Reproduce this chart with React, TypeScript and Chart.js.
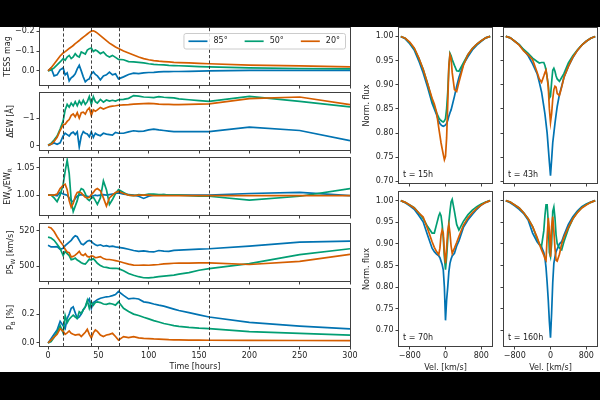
import React, { useEffect, useRef } from "react";
import { Chart, registerables } from "chart.js";

Chart.register(...registerables);

// ---------------- data ----------------
const TIME = [0, 3, 6, 9, 12, 15, 17, 19, 21, 23, 25, 27, 29, 31, 33, 35, 37, 39, 41, 43, 45, 47, 49, 52, 55, 58, 61, 64, 67, 70, 75, 80, 85, 90, 95, 100, 105, 110, 115, 120, 125, 130, 140, 150, 160, 200, 250, 300];

const TESS_85 = [0, -0.015, 0.025, 0.02, -0.005, -0.015, 0.02, 0.01, 0.05, 0.035, 0.027, 0.015, -0.01, -0.028, 0.0, 0.03, 0.055, 0.045, 0.04, 0.015, 0.005, 0.018, 0.025, 0.045, 0.025, 0.02, 0.006, 0.02, 0.015, 0.04, 0.03, 0.018, 0.011, 0.014, 0.01, 0.008, 0.007, 0.005, 0.004, 0.004, 0.003, 0.003, 0.002, 0.001, 0.0, -0.003, -0.003, -0.003];
const TESS_50 = [0, -0.005, -0.015, -0.03, -0.045, -0.062, -0.054, -0.07, -0.078, -0.062, -0.07, -0.087, -0.075, -0.07, -0.095, -0.09, -0.085, -0.105, -0.112, -0.115, -0.098, -0.105, -0.1, -0.087, -0.095, -0.078, -0.07, -0.078, -0.068, -0.058, -0.056, -0.047, -0.045, -0.043, -0.04, -0.036, -0.033, -0.031, -0.03, -0.028, -0.027, -0.026, -0.024, -0.022, -0.02, -0.015, -0.012, -0.01];
const TESS_20 = [0, -0.015, -0.035, -0.055, -0.075, -0.09, -0.097, -0.105, -0.113, -0.12, -0.128, -0.137, -0.145, -0.153, -0.162, -0.17, -0.178, -0.186, -0.194, -0.2, -0.202, -0.197, -0.19, -0.178, -0.165, -0.152, -0.14, -0.13, -0.12, -0.113, -0.1, -0.09, -0.08, -0.07, -0.062, -0.056, -0.052, -0.049, -0.047, -0.045, -0.043, -0.042, -0.04, -0.038, -0.036, -0.029, -0.025, -0.02];

const DEW_85 = [0, -0.05, -0.1, -0.05, -0.1, -0.35, -0.45, -0.4, -0.35, -0.45, -0.49, -0.4, -0.5, 0.05, -0.35, -0.51, -0.45, -0.42, -0.32, -0.5, -0.3, -0.45, -0.4, -0.36, -0.45, -0.42, -0.4, -0.38, -0.48, -0.45, -0.45, -0.5, -0.54, -0.52, -0.53, -0.57, -0.6, -0.57, -0.55, -0.53, -0.51, -0.51, -0.51, -0.51, -0.51, -0.67, -0.55, -0.18];
const DEW_50 = [-0.02, -0.08, -0.2, -0.35, -0.6, -0.9, -1.3, -1.5, -1.4, -1.55, -1.45, -1.6, -1.45, -1.63, -1.5, -1.65, -1.5, -1.6, -1.79, -1.5, -1.78, -1.6, -1.55, -1.68, -1.58, -1.66, -1.62, -1.65, -1.62, -1.67, -1.68, -1.72, -1.82, -1.8, -1.77, -1.76, -1.75, -1.78, -1.76, -1.75, -1.74, -1.7, -1.67, -1.64, -1.61, -1.79, -1.61, -1.41];
const DEW_20 = [-0.02, -0.05, -0.15, -0.3, -0.55, -0.76, -0.78, -0.88, -0.95, -1.1, -1.15, -1.05, -1.2, -1.0, -1.2, -1.22, -1.15, -1.3, -1.37, -1.1, -1.3, -1.25, -1.3, -1.39, -1.33, -1.38, -1.42, -1.44, -1.45, -1.47, -1.48, -1.49, -1.51, -1.52, -1.53, -1.54, -1.53, -1.51, -1.5, -1.5, -1.49, -1.49, -1.5, -1.51, -1.52, -1.71, -1.77, -1.49];

const EWR_85 = [1.0, 1.0, 1.0, 0.999, 1.005, 1.002, 1.001, 1.0, 0.995, 0.99, 0.988, 0.994, 0.998, 1.0, 1.001, 1.0, 0.999, 0.998, 0.997, 0.998, 0.999, 1.0, 0.999, 1.0, 1.001, 1.0, 1.001, 1.002, 1.003, 1.004, 1.002, 1.001, 1.0, 0.998, 0.994, 0.998, 1.0, 1.0, 1.001, 1.0, 1.0, 1.0, 1.0, 1.0, 1.0, 1.003, 1.005, 0.999];
const EWR_50 = [1.0, 1.0, 0.995, 0.988, 1.0, 1.02, 1.044, 1.064, 1.04, 0.99, 0.97, 0.98, 0.99, 1.005, 1.012, 1.01, 1.003, 0.993, 0.99, 0.995, 0.996, 0.99, 0.983, 0.995, 1.026, 1.01, 0.983, 0.992, 1.003, 1.01, 1.005, 1.0, 0.999, 1.001, 1.0, 1.002, 1.002, 1.001, 1.001, 1.0, 1.0, 1.0, 0.999, 0.998, 0.998, 0.991, 0.998, 1.012];
const EWR_20 = [1.0, 1.0, 1.0, 1.002, 1.012, 1.018, 1.02, 1.01, 0.99, 0.978, 0.985, 0.998, 1.005, 1.006, 1.004, 1.0, 0.996, 0.995, 0.996, 1.001, 1.005, 1.01, 1.012, 1.008, 0.995, 0.98, 0.995, 1.0, 1.005, 1.007, 1.003, 1.0, 0.999, 1.0, 1.0, 1.0, 0.999, 0.999, 0.999, 0.999, 0.999, 0.999, 0.999, 0.999, 0.999, 0.999, 0.999, 0.999];

const PSW_85 = [511.7, 510.8, 510.8, 511, 509.5, 510, 511.5, 512.5, 513.5, 514.5, 516, 517, 516.5, 514.5, 512.5, 512, 513, 514, 514.4, 513.8, 512.8, 512, 511.6, 512, 511.2, 511.5, 511, 511.2, 510.8, 510.6, 510.1, 509.5, 508.8, 508.3, 508.6, 508.2, 508, 508.8, 508.5, 508.3, 508.9, 509, 509.3, 509.6, 509.8, 511.3, 513.5, 514];
const PSW_50 = [516.3, 515.8, 514.5, 512.3, 510, 506, 508.3, 507, 506, 503.7, 504, 504.6, 503.5, 502.8, 502, 501.5, 501.3, 502.5, 504, 503.5, 504.3, 503, 501.7, 500.4, 499.6, 499.4, 499, 498.8, 498.9, 498.7, 497.5, 496, 495, 494.2, 493.6, 493.5, 493.8, 494.2, 494.5, 494.8, 495.1, 495.6, 496.5, 497.8, 498.7, 501.5, 506.5, 509.8];
const PSW_20 = [521.9, 521.4, 519.4, 516.5, 514, 511.7, 509.5, 508, 507.6, 505.2, 505.5, 506.2, 507.2, 508.3, 506.5, 506, 507, 505.5, 505.2, 505.8, 505.6, 504.8, 505, 505.4, 504.3, 503.8, 503.8, 503.5, 503.2, 502.8, 502, 501.2, 500.7, 500.6, 500.7, 500.6, 500.8, 501, 501.3, 501.5, 501.7, 501.8, 501.8, 501.9, 501.9, 501, 502.8, 506.7];

const PB_85 = [0, 0.03, 0.06, 0.09, 0.15, 0.12, 0.1, 0.17, 0.2, 0.24, 0.25, 0.21, 0.17, 0.18, 0.2, 0.23, 0.25, 0.285, 0.305, 0.24, 0.28, 0.29, 0.3, 0.31, 0.315, 0.32, 0.322, 0.328, 0.335, 0.357, 0.33, 0.305, 0.31, 0.305, 0.285, 0.28, 0.27, 0.262, 0.255, 0.245, 0.235, 0.225, 0.21, 0.195, 0.18, 0.143, 0.117, 0.097];
const PB_50 = [0, 0.01, 0.04, 0.075, 0.12, 0.07, 0.19, 0.14, 0.165, 0.18, 0.193, 0.18, 0.17, 0.216, 0.205, 0.23, 0.25, 0.296, 0.24, 0.285, 0.262, 0.28, 0.285, 0.28, 0.27, 0.268, 0.274, 0.27, 0.262, 0.285, 0.24, 0.218, 0.2, 0.19, 0.178, 0.167, 0.155, 0.145, 0.135, 0.128, 0.12, 0.115, 0.108, 0.103, 0.1, 0.078, 0.067, 0.055];
const PB_20 = [0, 0.02, 0.04, 0.06, 0.1, 0.08, 0.06, 0.07, 0.083, 0.067, 0.06, 0.055, 0.058, 0.06, 0.045, 0.06, 0.074, 0.095, 0.06, 0.035, 0.07, 0.09, 0.08, 0.055, 0.045, 0.055, 0.06, 0.067, 0.045, 0.02, 0.044, 0.037, 0.044, 0.035, 0.032, 0.03, 0.028, 0.027, 0.025, 0.023, 0.022, 0.021, 0.02, 0.02, 0.019, 0.018, 0.017, 0.016];

const MARK_TIMES = [15, 43, 70, 160];
const SERIES_LABELS = ["85°", "50°", "20°"];
const TIME_TICKS = [0, 50, 100, 150, 200, 250, 300];
const TESS_TICKS = [-0.2, -0.1, 0.0];
const DEW_TICKS = [-1, 0];
const EWR_TICKS = [1.0, 1.05];
const PSW_TICKS = [500, 520];
const PB_TICKS = [0, 0.2];

const VEL = [-1000, -900, -800, -700, -600, -500, -400, -300, -250, -200, -150, -125, -100, -75, -50, -25, 0, 25, 50, 75, 100, 125, 150, 200, 250, 300, 400, 500, 600, 700, 800, 900, 1000];
const VEL_TICKS = [-800, 0, 800];
const FLUX_TICKS = [0.7, 0.75, 0.8, 0.85, 0.9, 0.95, 1.0];

const P15_85 = [1.0, 0.995, 0.985, 0.972, 0.95, 0.925, 0.895, 0.862, 0.85, 0.838, 0.824, 0.82, 0.817, 0.815, 0.814, 0.815, 0.817, 0.82, 0.826, 0.835, 0.842, 0.848, 0.857, 0.876, 0.897, 0.915, 0.942, 0.958, 0.972, 0.982, 0.99, 0.997, 1.0];
const P15_50 = [1.0, 0.996, 0.987, 0.975, 0.955, 0.932, 0.902, 0.868, 0.855, 0.842, 0.832, 0.828, 0.826, 0.824, 0.823, 0.825, 0.83, 0.85, 0.885, 0.935, 0.965, 0.96, 0.952, 0.94, 0.929, 0.928, 0.945, 0.962, 0.975, 0.984, 0.991, 0.997, 1.0];
const P15_20 = [1.0, 0.996, 0.988, 0.976, 0.956, 0.932, 0.902, 0.872, 0.86, 0.843, 0.81, 0.795, 0.78, 0.768, 0.756, 0.745, 0.752, 0.79, 0.86, 0.94, 0.962, 0.955, 0.925, 0.89, 0.886, 0.905, 0.94, 0.962, 0.975, 0.984, 0.991, 0.997, 1.0];

const P43_85 = [1.0, 0.997, 0.99, 0.983, 0.972, 0.96, 0.943, 0.923, 0.905, 0.885, 0.855, 0.84, 0.82, 0.8, 0.77, 0.74, 0.712, 0.745, 0.78, 0.8, 0.82, 0.838, 0.855, 0.88, 0.897, 0.915, 0.938, 0.956, 0.971, 0.982, 0.99, 0.996, 1.0];
const P43_50 = [1.0, 0.997, 0.99, 0.983, 0.973, 0.965, 0.955, 0.948, 0.945, 0.946, 0.946, 0.94, 0.93, 0.915, 0.9, 0.872, 0.876, 0.905, 0.93, 0.934, 0.928, 0.918, 0.912, 0.907, 0.915, 0.923, 0.945, 0.96, 0.972, 0.982, 0.99, 0.996, 1.0];
const P43_20 = [1.0, 0.997, 0.99, 0.982, 0.97, 0.962, 0.952, 0.926, 0.912, 0.905, 0.918, 0.925, 0.93, 0.915, 0.895, 0.85, 0.822, 0.84, 0.87, 0.89, 0.897, 0.895, 0.882, 0.878, 0.895, 0.915, 0.938, 0.957, 0.971, 0.982, 0.99, 0.996, 1.0];

const P70_85 = [1.0, 0.995, 0.988, 0.98, 0.966, 0.951, 0.92, 0.89, 0.882, 0.876, 0.872, 0.868, 0.86, 0.852, 0.84, 0.8, 0.723, 0.77, 0.8, 0.835, 0.855, 0.865, 0.872, 0.878, 0.895, 0.907, 0.938, 0.955, 0.968, 0.98, 0.99, 0.996, 1.0];
const P70_50 = [1.0, 0.996, 0.99, 0.984, 0.972, 0.959, 0.94, 0.925, 0.925, 0.945, 0.965, 0.971, 0.965, 0.945, 0.915, 0.87, 0.84, 0.87, 0.91, 0.95, 0.975, 0.997, 1.003, 0.975, 0.945, 0.932, 0.952, 0.967, 0.978, 0.986, 0.992, 0.997, 1.0];
const P70_20 = [1.0, 0.996, 0.99, 0.983, 0.972, 0.962, 0.935, 0.905, 0.892, 0.882, 0.875, 0.89, 0.92, 0.932, 0.925, 0.88, 0.855, 0.89, 0.93, 0.945, 0.925, 0.895, 0.878, 0.89, 0.903, 0.917, 0.943, 0.96, 0.972, 0.982, 0.99, 0.996, 1.0];

const P160_85 = [1.0, 0.995, 0.988, 0.98, 0.97, 0.955, 0.925, 0.905, 0.898, 0.893, 0.88, 0.868, 0.845, 0.81, 0.77, 0.72, 0.683, 0.74, 0.81, 0.855, 0.87, 0.882, 0.888, 0.9, 0.905, 0.92, 0.945, 0.963, 0.976, 0.986, 0.992, 0.997, 1.0];
const P160_50 = [1.0, 0.997, 0.99, 0.983, 0.972, 0.958, 0.94, 0.912, 0.9, 0.895, 0.93, 0.965, 0.99, 0.99, 0.95, 0.88, 0.87, 0.9, 0.975, 0.985, 0.96, 0.92, 0.9, 0.89, 0.886, 0.905, 0.935, 0.958, 0.973, 0.984, 0.991, 0.996, 1.0];
const P160_20 = [1.0, 0.997, 0.99, 0.983, 0.972, 0.958, 0.94, 0.915, 0.9, 0.886, 0.874, 0.866, 0.862, 0.915, 0.96, 0.93, 0.87, 0.94, 0.963, 0.93, 0.89, 0.862, 0.86, 0.876, 0.9, 0.915, 0.938, 0.958, 0.972, 0.983, 0.99, 0.996, 1.0];

const PROFILE_LABELS = ["t = 15h", "t = 43h", "t = 70h", "t = 160h"];

// ---------------- style / layout ----------------
const COLORS = ["#0173b2", "#029e73", "#d55e00"];
const FAMILY = "'DejaVu Sans', sans-serif";
const FS = 8;
const TEXT = "#222222";
const FRAME = "#404040";
const LW = 1.7;

type Seg = { t: string; sub?: boolean };

const fmt = (v: number, dec: number) => (v < 0 ? "\u2212" : "") + Math.abs(v).toFixed(dec);

function drawRich(ctx: CanvasRenderingContext2D, segs: Seg[], x: number, y: number, rotate: boolean) {
  ctx.save();
  ctx.translate(x, y);
  if (rotate) ctx.rotate(-Math.PI / 2);
  ctx.textBaseline = "middle";
  ctx.textAlign = "left";
  ctx.fillStyle = TEXT;
  const fontFor = (s: Seg) => `${s.sub ? FS * 0.72 : FS}px ${FAMILY}`;
  let total = 0;
  for (const s of segs) {
    ctx.font = fontFor(s);
    total += ctx.measureText(s.t).width;
  }
  let cx = -total / 2;
  for (const s of segs) {
    ctx.font = fontFor(s);
    ctx.fillText(s.t, cx, s.sub ? 2.2 : 0);
    cx += ctx.measureText(s.t).width;
  }
  ctx.restore();
}

interface Decor {
  yTitle?: Seg[];
  yTitleDx?: number;
  xTitle?: string;
  xTitleDy?: number;
  marks?: number[];
  legend?: boolean;
  note?: string;
}

function decorPlugin(d: Decor) {
  return {
    id: "decor",
    afterDatasetsDraw(chart: any) {
      const { ctx, chartArea: a, scales } = chart;
      if (d.marks) {
        ctx.save();
        ctx.strokeStyle = "#2a2a2a";
        ctx.lineWidth = 0.9;
        ctx.setLineDash([3.2, 2.2]);
        for (const m of d.marks) {
          const px = Math.round(scales.x.getPixelForValue(m)) + 0.5;
          ctx.beginPath();
          ctx.moveTo(px, a.top);
          ctx.lineTo(px, a.bottom);
          ctx.stroke();
        }
        ctx.restore();
      }
    },
    afterDraw(chart: any) {
      const { ctx, chartArea: a } = chart;
      ctx.save();
      ctx.strokeStyle = FRAME;
      ctx.lineWidth = 1;
      ctx.strokeRect(a.left - 0.5, a.top - 0.5, a.right - a.left + 1, a.bottom - a.top + 1);
      if (d.yTitle) drawRich(ctx, d.yTitle, a.left + (d.yTitleDx || 0), (a.top + a.bottom) / 2, true);
      if (d.xTitle) drawRich(ctx, [{ t: d.xTitle }], (a.left + a.right) / 2, a.bottom + (d.xTitleDy || 0), false);
      if (d.note) {
        ctx.font = `${FS}px ${FAMILY}`;
        ctx.fillStyle = TEXT;
        ctx.textAlign = "left";
        ctx.textBaseline = "middle";
        ctx.fillText(d.note, a.left + 4, a.bottom - 8.5);
      }
      if (d.legend) {
        ctx.font = `${FS}px ${FAMILY}`;
        const widths = SERIES_LABELS.map((s) => ctx.measureText(s).width);
        const pad = 5, handle = 19, gap = 6, col = 17, h = 15.5;
        const total = pad * 2 + widths.reduce((s, w) => s + handle + gap + w, 0) + col * (widths.length - 1);
        const bx = a.right - 5 - total, by = a.top + 5;
        ctx.fillStyle = "rgba(255,255,255,0.85)";
        ctx.strokeStyle = "#cccccc";
        ctx.beginPath();
        if ((ctx as any).roundRect) (ctx as any).roundRect(bx + 0.5, by + 0.5, total, h, 2);
        else ctx.rect(bx + 0.5, by + 0.5, total, h);
        ctx.fill();
        ctx.stroke();
        let x = bx + pad;
        const cy = by + h / 2 + 0.5;
        widths.forEach((w, i) => {
          ctx.strokeStyle = COLORS[i];
          ctx.lineWidth = LW;
          ctx.beginPath();
          ctx.moveTo(x, cy);
          ctx.lineTo(x + handle, cy);
          ctx.stroke();
          ctx.fillStyle = TEXT;
          ctx.textAlign = "left";
          ctx.textBaseline = "middle";
          ctx.fillText(SERIES_LABELS[i], x + handle + gap, cy);
          x += handle + gap + w + col;
        });
      }
      ctx.restore();
    },
  };
}

type Rect = { x: number; y: number; w: number; h: number };

interface PanelSpec {
  canvas: Rect;
  plot: { x0: number; x1: number; y0: number; y1: number };
  xMin: number; xMax: number; xTicks: number[]; xDec: number; xLabels: boolean;
  yMin: number; yMax: number; yTicks: number[]; yDec: number; yLabels: boolean; reverse?: boolean;
  xs: number[];
  series: number[][];
  decor: Decor;
}

function buildConfig(p: PanelSpec): any {
  const yW = p.plot.x0 - p.canvas.x;
  const xH = p.canvas.y + p.canvas.h - p.plot.y1;
  const tickFont = { family: FAMILY, size: FS };
  const grid = { display: true, drawOnChartArea: false, drawTicks: true, tickLength: 3.5, tickColor: FRAME, tickWidth: 1 };
  return {
    type: "line",
    data: {
      datasets: p.series.map((arr, i) => ({
        data: p.xs.map((x, k) => ({ x, y: arr[k] })),
        borderColor: COLORS[i],
        backgroundColor: COLORS[i],
        borderWidth: LW,
        pointRadius: 0,
        tension: 0,
        fill: false,
        order: 3 - i,
      })),
    },
    options: {
      responsive: false,
      maintainAspectRatio: false,
      animation: false,
      events: [],
      layout: {
        autoPadding: false,
        padding: { left: 0, top: p.plot.y0 - p.canvas.y, right: p.canvas.x + p.canvas.w - p.plot.x1, bottom: 0 },
      },
      plugins: { legend: { display: false }, tooltip: { enabled: false } },
      scales: {
        x: {
          type: "linear",
          min: p.xMin,
          max: p.xMax,
          afterBuildTicks: (s: any) => { s.ticks = p.xTicks.map((v) => ({ value: v })); },
          afterFit: (s: any) => { s.height = xH; s.paddingLeft = 0; s.paddingRight = 0; s.paddingTop = 0; s.paddingBottom = 0; },
          ticks: { display: p.xLabels, font: tickFont, color: TEXT, padding: 1.5, maxRotation: 0, autoSkip: false, callback: (v: number) => fmt(v, p.xDec) },
          grid,
          border: { display: false },
        },
        y: {
          type: "linear",
          min: p.yMin,
          max: p.yMax,
          reverse: !!p.reverse,
          afterBuildTicks: (s: any) => { s.ticks = p.yTicks.map((v) => ({ value: v })); },
          afterFit: (s: any) => { s.width = yW; s.paddingLeft = 0; s.paddingRight = 0; s.paddingTop = 0; s.paddingBottom = 0; },
          ticks: { display: p.yLabels, font: tickFont, color: TEXT, padding: 2, autoSkip: false, callback: (v: number) => fmt(v, p.yDec) },
          grid,
          border: { display: false },
        },
      },
    },
    plugins: [decorPlugin(p.decor)],
  };
}

function ChartBox({ spec }: { spec: PanelSpec }) {
  const ref = useRef<HTMLCanvasElement | null>(null);
  useEffect(() => {
    const chart = new Chart(ref.current as HTMLCanvasElement, buildConfig(spec));
    return () => chart.destroy();
  }, []);
  const r = spec.canvas;
  return (
    <canvas
      ref={ref}
      width={r.w}
      height={r.h}
      style={{ position: "absolute", left: r.x, top: r.y, width: r.w, height: r.h }}
    />
  );
}

// left column geometry
const L_X0 = 40, L_X1 = 350, L_H = 57;
const L_TOPS = [28, 93, 158, 224, 289];

const LEFT_DEFS = [
  { series: [TESS_85, TESS_50, TESS_20], yMin: -0.216, yMax: 0.071, yTicks: TESS_TICKS, yDec: 1, reverse: true, title: [{ t: "TESS mag" }], dx: -32 },
  { series: [DEW_85, DEW_50, DEW_20], yMin: -1.915, yMax: 0.16, yTicks: DEW_TICKS, yDec: 0, reverse: true, title: [{ t: "ΔEW [Å]" }], dx: -29 },
  { series: [EWR_85, EWR_50, EWR_20], yMin: 0.9637, yMax: 1.068, yTicks: EWR_TICKS, yDec: 2, reverse: false, title: [{ t: "EW" }, { t: "V", sub: true }, { t: "/EW" }, { t: "R", sub: true }], dx: -32 },
  { series: [PSW_85, PSW_50, PSW_20], yMin: 491.8, yMax: 523.6, yTicks: PSW_TICKS, yDec: 0, reverse: false, title: [{ t: "PS" }, { t: "W", sub: true }, { t: " [km/s]" }], dx: -29 },
  { series: [PB_85, PB_50, PB_20], yMin: -0.021, yMax: 0.374, yTicks: PB_TICKS, yDec: 1, reverse: false, title: [{ t: "P" }, { t: "B", sub: true }, { t: " [%]" }], dx: -29 },
];

const LEFT_SPECS: PanelSpec[] = LEFT_DEFS.map((d, i) => {
  const last = i === LEFT_DEFS.length - 1;
  const y0 = L_TOPS[i], y1 = y0 + L_H;
  return {
    canvas: { x: 0, y: y0 - 8, w: 362, h: 8 + L_H + (last ? 30 : 4) },
    plot: { x0: L_X0, x1: L_X1, y0, y1 },
    xMin: -8, xMax: 300, xTicks: TIME_TICKS, xDec: 0, xLabels: last,
    yMin: d.yMin, yMax: d.yMax, yTicks: d.yTicks, yDec: d.yDec, yLabels: true, reverse: d.reverse,
    xs: TIME,
    series: d.series,
    decor: {
      yTitle: d.title, yTitleDx: d.dx, marks: MARK_TIMES, legend: i === 0,
      xTitle: last ? "Time [hours]" : undefined, xTitleDy: 21,
    },
  };
});

// right block geometry
const R_COLS = [[399, 492], [504, 597]];
const R_CANVAS_X = [[360, 140], [500, 100]];
const R_ROWS = [[28, 183], [192, 346]];
const R_YLIM = [[0.6967, 1.0174], [0.6636, 1.02]];
const PROFILES = [
  [P15_85, P15_50, P15_20],
  [P43_85, P43_50, P43_20],
  [P70_85, P70_50, P70_20],
  [P160_85, P160_50, P160_20],
];

const RIGHT_SPECS: PanelSpec[] = PROFILES.map((series, k) => {
  const r = Math.floor(k / 2), c = k % 2;
  const [x0, x1] = R_COLS[c];
  const [y0, y1] = R_ROWS[r];
  const bottomRow = r === 1;
  return {
    canvas: { x: R_CANVAS_X[c][0], y: y0 - 8, w: R_CANVAS_X[c][1], h: 8 + (y1 - y0) + (bottomRow ? 30 : 4) },
    plot: { x0, x1, y0, y1 },
    xMin: -1040, xMax: 1040, xTicks: VEL_TICKS, xDec: 0, xLabels: bottomRow,
    yMin: R_YLIM[r][0], yMax: R_YLIM[r][1], yTicks: FLUX_TICKS, yDec: 2, yLabels: c === 0,
    xs: VEL,
    series,
    decor: {
      yTitle: c === 0 ? [{ t: "Norm. flux" }] : undefined, yTitleDx: -32,
      xTitle: bottomRow ? "Vel. [km/s]" : undefined, xTitleDy: 22,
      note: PROFILE_LABELS[k],
    },
  };
});

export default function App() {
  return (
    <div style={{ position: "fixed", left: 0, top: 0, width: 600, height: 400, background: "#000", overflow: "hidden" }}>
      <div style={{ position: "absolute", left: 0, top: 27, width: 600, height: 345, background: "#fff" }} />
      {LEFT_SPECS.map((s, i) => <ChartBox key={"l" + i} spec={s} />)}
      {RIGHT_SPECS.map((s, i) => <ChartBox key={"r" + i} spec={s} />)}
    </div>
  );
}
